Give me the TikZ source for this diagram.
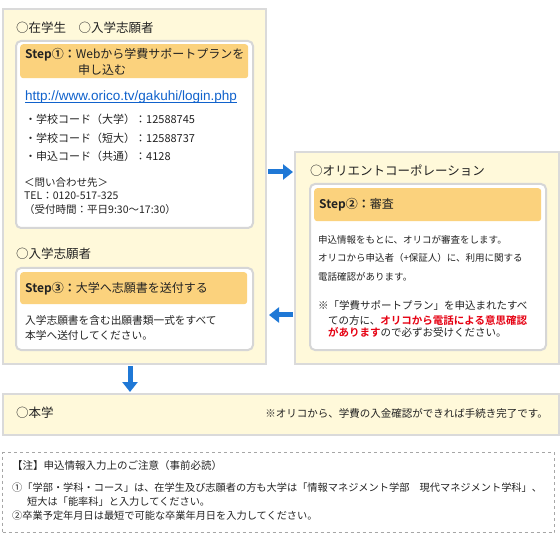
\documentclass[tikz,border=0pt]{standalone}
\usepackage{fontspec}
\setmainfont{Noto Sans CJK JP}[BoldFont={Noto Sans CJK JP Bold}]
\newfontfamily\urlfont{Liberation Sans}
\usetikzlibrary{arrows.meta}

\definecolor{panelfill}{HTML}{FFF9DA}
\definecolor{panelline}{HTML}{DADADA}
\definecolor{boxline}{HTML}{D6D6D6}
\definecolor{headfill}{HTML}{FBD27D}
\definecolor{flowblue}{HTML}{1F78D6}
\definecolor{linkblue}{HTML}{1062CC}
\definecolor{alertred}{HTML}{E60012}
\definecolor{inkgray}{HTML}{222222}

\newcommand{\fs}[1]{\fontsize{#1pt}{#1pt}\selectfont}
\newcommand{\pn}{\node[draw=panelline, line width=2pt, fill=panelfill, anchor=north west, inner sep=0pt]}
\newcommand{\bx}{\node[draw=boxline, line width=2pt, fill=white, rounded corners=5pt, anchor=north west, inner sep=0pt]}
\newcommand{\hd}{\node[fill=headfill, rounded corners=3pt, anchor=north west, inner sep=0pt]}
\newcommand{\tx}{\node[anchor=base west, inner sep=0pt, text=inkgray]}
\newcommand{\stp}[1]{\textbf{Step#1：}}

\begin{document}
\begin{tikzpicture}[x=1pt, y=-1pt,
    flow/.style={draw=flowblue, line width=5pt, -{Triangle[length=10pt, width=15pt]}}]
            \useasboundingbox (0,0) rectangle (560,540);

            % panels
            \pn[minimum width=263pt, minimum height=355pt] (lp) at (2,8) {};
            \pn[minimum width=264pt, minimum height=212pt] (rp) at (294,151) {};
            \pn[minimum width=556pt, minimum height=41pt] (bp) at (2,393) {};
            \node[draw=gray!70, dashed, line width=1pt, anchor=north west,
                minimum width=552pt, minimum height=80pt, inner sep=0pt] (nb) at (2,452) {};

            % inner boxes
            \bx[minimum width=237pt, minimum height=187pt] (b1) at (15,40) {};
            \bx[minimum width=237pt, minimum height=82pt] (b3) at (15,267) {};
            \bx[minimum width=236pt, minimum height=166pt] (b2) at (309,183) {};
            \hd[minimum width=228pt, minimum height=34pt] (h1) at (20,44) {};
            \hd[minimum width=227pt, minimum height=32pt] (h3) at (20,272) {};
            \hd[minimum width=227pt, minimum height=33pt] (h2) at (314,188) {};

            % step 1
            \tx (t1) at (16,33) {\fs{12.5}○在学生　○入学志願者};
            \tx (s1a) at (25,59) {\fs{12}\stp{①}Webから学費サポートプランを};
            \tx (s1b) at (78,75) {\fs{12}申し込む};
            \tx[text=linkblue] (url) at (25,101) {\fs{13.5}\urlfont http://www.orico.tv/gakuhi/login.php};
            \draw[linkblue, line width=1pt] ([yshift=-2pt]url.base west) -- ([yshift=-2pt]url.base east);
            \tx (c1) at (25,124) {\fs{11}・学校コード（大学）：12588745};
            \tx (c2) at (25,143) {\fs{11}・学校コード（短大）：12588737};
            \tx (c3) at (25,161) {\fs{11}・申込コード（共通）：4128};
            \tx (q1) at (24,187) {\fs{10.5}＜問い合わせ先＞};
            \tx (q2) at (24,200) {\fs{10.5}TEL：0120-517-325};
            \tx (q3) at (24,214) {\fs{10.5}（受付時間：平日9:30～17:30）};

            % step 3
            \tx (t3) at (16,259) {\fs{12.5}○入学志願者};
            \tx (s3) at (25,293) {\fs{12}\stp{③}大学へ志願書を送付する};
            \tx (d3a) at (25,325) {\fs{10.7}入学志願書を含む出願書類一式をすべて};
            \tx (d3b) at (25,340) {\fs{10.7}本学へ送付してください。};

            % step 2
            \tx (t2) at (310,176) {\fs{12.5}○オリエントコーポレーション};
            \tx (s2) at (319,209) {\fs{12}\stp{②}審査};
            \tx (d2a) at (318,244) {\fs{9.5}申込情報をもとに、オリコが審査をします。};
            \tx (d2b) at (318,262) {\fs{9.5}オリコから申込者（+保証人）に、利用に関する};
            \tx (d2c) at (318,281) {\fs{9.5}電話確認があります。};
            \tx (n2a) at (318,309) {\fs{10.5}※「学費サポートプラン」を申込まれたすべ};
            \tx (n2b) at (328,324) {\fs{10.5}ての方に、\textcolor{alertred}{\textbf{オリコから電話による意思確認}}};
            \tx (n2c) at (328,337) {\fs{10.5}\textcolor{alertred}{\textbf{があります}}ので必ずお受けください。};

            % university
            \tx (t4) at (16,417) {\fs{12.5}○本学};
            \node[anchor=base east, inner sep=0pt, text=inkgray] (done) at (548,417)
                {\fs{10.5}※オリコから、学費の入金確認ができれば手続き完了です。};

            % notes
            \tx (m0) at (12,469) {\fs{10.5}【注】申込情報入力上のご注意（事前必読）};
            \tx (m1) at (12,491) {\fs{10.2}①「学部・学科・コース」は、在学生及び志願者の方も大学は「情報マネジメント学部　現代マネジメント学科」、};
            \tx (m2) at (27,505) {\fs{10.2}短大は「能率科」と入力してください。};
            \tx (m3) at (12,519) {\fs{10.2}②卒業予定年月日は最短で可能な卒業年月日を入力してください。};

            % arrows
            \coordinate (a12) at (0,172);
            \coordinate (a23) at (0,315);
            \coordinate (a34) at (130,0);
            \draw[flow, shorten <=1pt, shorten >=1pt] (lp.east |- a12) -- (rp.west |- a12);
            \draw[flow, shorten <=1pt, shorten >=2pt] (rp.west |- a23) -- (lp.east |- a23);
            \draw[flow, shorten <=1pt, shorten >=1pt] (lp.south -| a34) -- (bp.north -| a34);
        \end{tikzpicture}
\end{document}
